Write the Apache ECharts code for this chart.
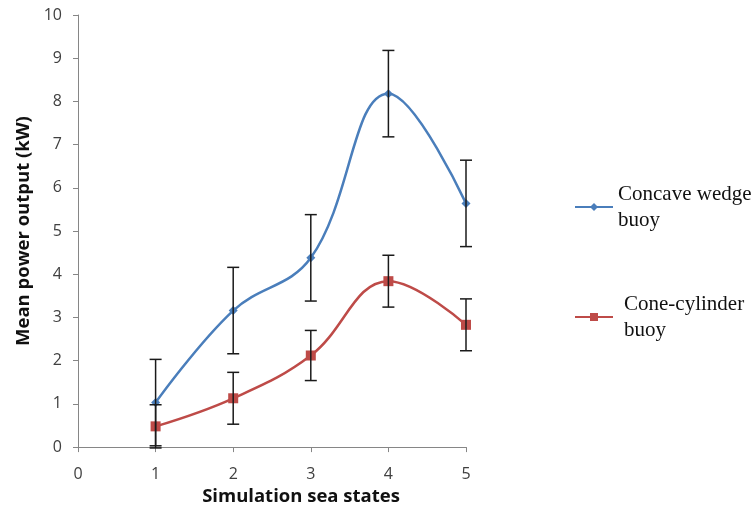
<!DOCTYPE html>
<html>
<head>
<meta charset="utf-8">
<script src="https://cdn.jsdelivr.net/npm/echarts@6/dist/echarts.min.js"></script>
<style>html,body{margin:0;padding:0;background:#fff;}#main{width:752px;height:511px;}</style>
</head>
<body>
<div id="main"></div>
<script>
const seaStates = [1, 2, 3, 4, 5];
const concaveMean = [1.03, 3.16, 4.38, 8.18, 5.64];
const concaveErr = [1.0, 1.0, 1.0, 1.0, 1.0];
const coneMean = [0.48, 1.13, 2.12, 3.84, 2.83];
const coneErr = [0.5, 0.6, 0.58, 0.6, 0.6];
const xTicks = [0, 1, 2, 3, 4, 5];
const yTicks = [0, 1, 2, 3, 4, 5, 6, 7, 8, 9, 10];
const seriesNames = ['Concave wedge buoy', 'Cone-cylinder buoy'];
const legendLabels = ['Concave wedge\nbuoy', 'Cone-cylinder\nbuoy'];

const chart = echarts.init(document.getElementById('main'));

function errData(means, errs) {
  return seaStates.map((x, i) => [x, means[i] - errs[i], means[i] + errs[i]]);
}

function renderErr(params, api) {
  const x = api.value(0);
  const lo = api.coord([x, api.value(1)]);
  const hi = api.coord([x, api.value(2)]);
  const hw = 6;
  const style = { stroke: '#1a1a1a', lineWidth: 1.5 };
  return {
    type: 'group',
    children: [
      { type: 'line', shape: { x1: lo[0], y1: lo[1], x2: hi[0], y2: hi[1] }, style },
      { type: 'line', shape: { x1: hi[0] - hw, y1: hi[1], x2: hi[0] + hw, y2: hi[1] }, style },
      { type: 'line', shape: { x1: lo[0] - hw, y1: lo[1], x2: lo[0] + hw, y2: lo[1] }, style }
    ]
  };
}

const legendText = (padLeft) => ({
  fontFamily: 'Liberation Serif',
  fontSize: 21,
  color: '#111',
  lineHeight: 26,
  padding: [20, 0, 0, padLeft]
});

const option = {
  animation: false,
  backgroundColor: '#fff',
  grid: { left: 78, right: 286, top: 15, bottom: 60 },
  xAxis: {
    type: 'value',
    min: xTicks[0],
    max: xTicks[xTicks.length - 1],
    interval: 1,
    name: 'Simulation sea states',
    nameLocation: 'middle',
    nameGap: 36,
    nameTextStyle: { fontFamily: 'Open Sans', fontWeight: 'bold', fontSize: 18.5, color: '#111', padding: [0, 0, 0, 58] },
    axisLine: { lineStyle: { color: '#868686', width: 1 } },
    axisTick: { show: true, length: 5, lineStyle: { color: '#868686' } },
    axisLabel: { margin: 19, fontFamily: 'Open Sans', fontSize: 16, color: '#404040' },
    splitLine: { show: false }
  },
  yAxis: {
    type: 'value',
    min: yTicks[0],
    max: yTicks[yTicks.length - 1],
    interval: 1,
    name: 'Mean power output (kW)',
    nameLocation: 'middle',
    nameGap: 36,
    nameTextStyle: { fontFamily: 'Open Sans', fontWeight: 'bold', fontSize: 18.5, color: '#111' },
    axisLine: { show: true, lineStyle: { color: '#868686', width: 1 } },
    axisTick: { show: true, length: 5, lineStyle: { color: '#868686' } },
    axisLabel: { margin: 16, fontFamily: 'Open Sans', fontSize: 16, color: '#404040' },
    splitLine: { show: false }
  },
  legend: [
    {
      orient: 'vertical', left: 574, top: 171, padding: 0,
      itemWidth: 38, itemHeight: 10,
      data: [seriesNames[0]],
      formatter: () => legendLabels[0],
      textStyle: legendText(0)
    },
    {
      orient: 'vertical', left: 574, top: 281, padding: 0,
      itemWidth: 38, itemHeight: 10,
      data: [seriesNames[1]],
      formatter: () => legendLabels[1],
      textStyle: legendText(6)
    }
  ],
  series: [
    {
      name: seriesNames[0],
      type: 'line',
      smooth: 0.4,
      data: seaStates.map((x, i) => [x, concaveMean[i]]),
      symbol: 'diamond',
      symbolSize: 9,
      lineStyle: { color: '#4A7EBB', width: 2.5 },
      itemStyle: { color: '#4A7EBB' },
      z: 2
    },
    {
      name: seriesNames[1],
      type: 'line',
      smooth: 0.4,
      data: seaStates.map((x, i) => [x, coneMean[i]]),
      symbol: 'rect',
      symbolSize: 10,
      lineStyle: { color: '#BE4B48', width: 2.5 },
      itemStyle: { color: '#BE4B48' },
      z: 2
    },
    {
      type: 'custom',
      renderItem: renderErr,
      data: errData(concaveMean, concaveErr),
      encode: { x: 0, y: [1, 2] },
      z: 3,
      silent: true
    },
    {
      type: 'custom',
      renderItem: renderErr,
      data: errData(coneMean, coneErr),
      encode: { x: 0, y: [1, 2] },
      z: 3,
      silent: true
    }
  ]
};
chart.setOption(option);
</script>
</body>
</html>
